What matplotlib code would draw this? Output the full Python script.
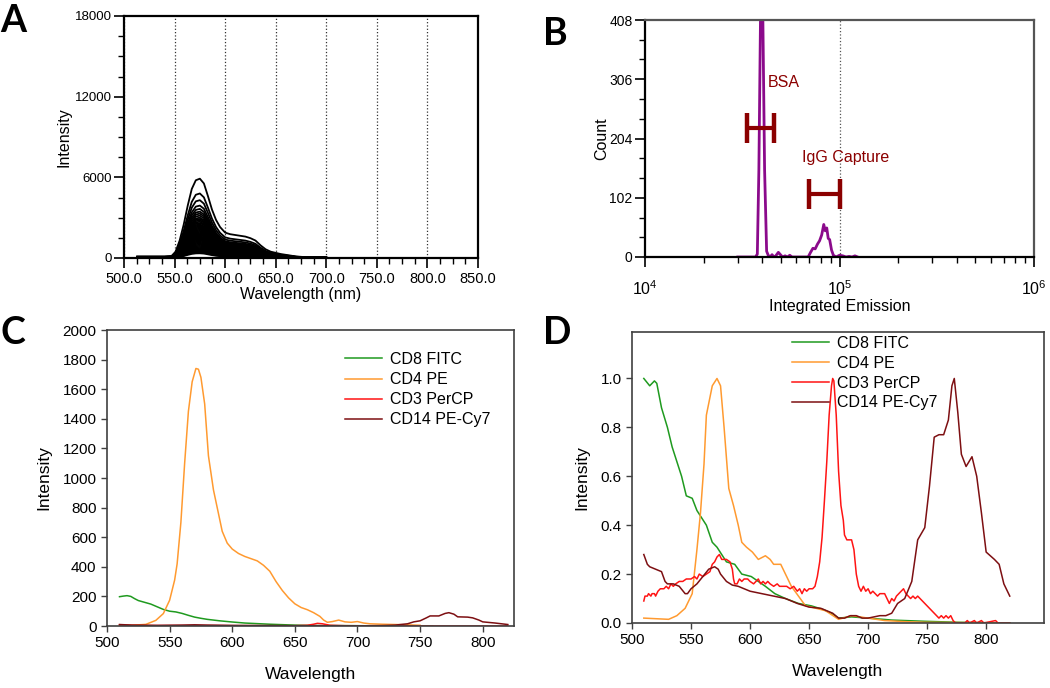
import numpy as np
import matplotlib.pyplot as plt
from matplotlib.ticker import MultipleLocator, FormatStrFormatter, LogLocator, NullFormatter

plt.rcParams['font.family'] = ['Liberation Sans', 'DejaVu Sans']
plt.rcParams['mathtext.default'] = 'regular'

# ---- panel A: stack of spectra (one shape, many peak heights) ----
A_wl = [513, 520, 530, 540, 547, 551, 555, 559, 563, 567, 571, 575, 579, 583, 587,
        591, 595, 600, 605, 610, 615, 620, 625, 630, 635, 640, 645, 650, 655, 660,
        665, 670, 675, 680, 690, 700]
A_shape = [0.02, 0.02, 0.02, 0.02, 0.025, 0.08, 0.22, 0.42, 0.66, 0.87, 0.98, 1.0, 0.94,
           0.78, 0.61, 0.48, 0.39, 0.32, 0.30, 0.29, 0.28, 0.27, 0.25, 0.22, 0.16, 0.11,
           0.08, 0.065, 0.05, 0.04, 0.03, 0.02, 0.015, 0.01, 0.008, 0.005]
A_peaks = [5900, 4800, 4300, 3900, 3650, 3450, 3300, 3150, 3000, 2900, 2800, 2700, 2600,
           2500, 2420, 2340, 2260, 2180, 2100, 2020, 1940, 1860, 1780, 1700, 1620, 1540,
           1460, 1380, 1300, 1220, 1140, 1060, 980, 900, 820, 740, 660, 580, 500, 420, 350]

# ---- panel B: histogram of integrated emission ----
B_x = [3.0e4, 3.70e4, 3.78e4, 3.85e4, 3.93e4, 4.03e4, 4.12e4, 4.22e4, 4.30e4, 4.40e4,
       4.50e4, 4.60e4, 4.70e4, 4.85e4, 5.00e4, 5.10e4, 5.25e4, 5.40e4, 5.55e4, 5.70e4,
       6.90e4, 7.10e4, 7.30e4, 7.50e4, 7.70e4, 7.90e4, 8.10e4, 8.30e4, 8.45e4, 8.60e4,
       8.75e4, 8.90e4, 9.10e4, 9.30e4, 9.60e4, 1.00e5, 1.04e5, 1.08e5, 1.12e5, 1.16e5,
       1.20e5, 1.24e5]
B_count = [0, 0, 5, 150, 430, 430, 150, 10, 3, 0,
           4, 0, 2, 8, 3, 0, 2, 0, 3, 0,
           0, 8, 15, 14, 22, 28, 38, 56, 45, 50,
           32, 30, 12, 3, 0, 3, 2, 0, 1, 0,
           2, 0]
gate_bsa = [3.35e4, 4.6e4, 222]
gate_igg = [6.95e4, 1.0e5, 108]
gate_half = 26

# ---- panel C: raw spectra ----
C_fitc_wl = [510, 513, 516, 519, 522, 525, 530, 535, 540, 545, 550, 555, 560, 565, 570,
             575, 580, 590, 600, 610, 620, 630, 640, 650, 660, 670, 680, 700, 720, 750, 760]
C_fitc = [198, 202, 205, 200, 185, 172, 160, 148, 130, 112, 100, 95, 85, 72, 60,
          52, 45, 35, 27, 20, 16, 12, 9, 6, 4, 3, 3, 2, 1, 1, 0]
C_pe_wl = [510, 520, 531, 539, 545, 550, 554, 556, 559, 562, 565, 568, 571, 573, 575,
           578, 581, 585, 588, 592, 596, 600, 605, 610, 615, 620, 625, 630, 635, 640,
           645, 650, 655, 660, 665, 670, 673, 676, 680, 685, 690, 695, 700, 705, 710,
           720, 730, 740, 750]
C_pe = [5, 5, 11, 38, 84, 174, 310, 420, 700, 1100, 1450, 1650, 1740, 1735, 1680,
        1500, 1150, 920, 800, 640, 560, 520, 490, 470, 455, 440, 410, 370, 300, 240,
        190, 150, 125, 110, 90, 65, 40, 25, 30, 40, 28, 25, 30, 20, 15,
        12, 10, 8, 5]
C_percp_wl = [510, 515, 520, 540, 560, 580, 600, 650, 660, 665, 668, 672, 678, 690, 720,
              750, 800, 818, 820]
C_percp = [8, 5, 4, 3, 3, 3, 2, 2, 5, 12, 18, 15, 5, 2, 1, 0.5, 0, 0, 6]
C_cy7_wl = [510, 520, 540, 560, 570, 580, 600, 650, 700, 720, 730, 740, 745, 750, 755,
            758, 765, 770, 773, 777, 780, 788, 792, 797, 800, 810, 820]
C_cy7 = [10, 6, 4, 6, 8, 6, 4, 2, 1, 3, 6, 15, 28, 35, 55, 68, 68, 85, 90, 80, 62, 60,
         55, 40, 28, 20, 10]

# ---- panel D: normalised spectra ----
D_fitc_wl = [510, 515, 519, 521, 525, 530, 534, 538, 542, 546, 551, 555, 559, 563, 568,
             572, 576, 580, 587, 593, 601, 607, 613, 621, 630, 641, 652, 662, 669, 675,
             686, 700, 720, 748, 776, 820]
D_fitc = [1.0, 0.97, 0.99, 0.98, 0.88, 0.80, 0.72, 0.66, 0.60, 0.52, 0.51, 0.46, 0.43,
          0.40, 0.33, 0.31, 0.28, 0.25, 0.24, 0.20, 0.19, 0.17, 0.15, 0.12, 0.10, 0.08,
          0.07, 0.055, 0.04, 0.02, 0.025, 0.02, 0.012, 0.007, 0.003, 0.0]
D_pe_wl = [510, 531, 538, 545, 551, 555, 558, 561, 563, 568, 572, 575, 578, 582, 586,
           590, 593, 597, 602, 607, 613, 617, 620, 626, 630, 635, 641, 647, 652, 664,
           675, 686, 700, 714, 734, 748, 820]
D_pe = [0.02, 0.015, 0.03, 0.06, 0.12, 0.30, 0.45, 0.65, 0.85, 0.97, 1.0, 0.97, 0.80,
        0.55, 0.48, 0.40, 0.33, 0.31, 0.29, 0.26, 0.275, 0.26, 0.24, 0.24, 0.20, 0.15,
        0.11, 0.07, 0.065, 0.05, 0.015, 0.03, 0.02, 0.01, 0.005, 0.003, 0.0]
D_percp_wl = [510, 511, 513, 514, 516, 517, 519, 520, 522, 524, 527, 529, 531, 533, 535,
              537, 540, 543, 546, 550, 553, 555, 557, 560, 563, 566, 568, 570, 572, 574,
              576, 580, 583, 585, 586, 587, 589, 591, 593, 595, 598, 600, 603, 605, 607,
              609, 611, 613, 615, 617, 620, 623, 625, 628, 631, 634, 637, 640, 642, 644,
              646, 648, 650, 653, 655, 657, 659, 661, 663, 665, 667, 669, 670, 671, 673,
              675, 677, 679, 680, 682, 686, 688, 690, 692, 694, 696, 698, 700, 702, 704,
              706, 708, 710, 714, 716, 718, 720, 722, 724, 726, 728, 730, 732, 734, 736,
              738, 740, 742, 744, 746, 748, 750, 752, 754, 756, 758, 760, 762, 764, 766,
              768, 770, 772, 774, 782, 784, 786, 790, 792, 796, 798, 808, 810, 818, 820]
D_percp = [0.09, 0.11, 0.11, 0.12, 0.11, 0.12, 0.12, 0.11, 0.13, 0.14, 0.14, 0.15, 0.14,
           0.16, 0.15, 0.16, 0.17, 0.17, 0.18, 0.18, 0.19, 0.18, 0.20, 0.19, 0.20, 0.21,
           0.24, 0.25, 0.27, 0.28, 0.26, 0.26, 0.25, 0.22, 0.18, 0.16, 0.16, 0.18, 0.17,
           0.18, 0.18, 0.17, 0.16, 0.17, 0.18, 0.16, 0.17, 0.16, 0.17, 0.16, 0.15, 0.16,
           0.15, 0.15, 0.15, 0.14, 0.15, 0.13, 0.14, 0.12, 0.14, 0.13, 0.14, 0.14, 0.15,
           0.19, 0.25, 0.35, 0.50, 0.66, 0.85, 0.97, 1.0, 0.99, 0.85, 0.62, 0.48, 0.42,
           0.36, 0.34, 0.34, 0.30, 0.20, 0.15, 0.13, 0.15, 0.13, 0.14, 0.12, 0.13, 0.12,
           0.11, 0.12, 0.12, 0.10, 0.08, 0.10, 0.09, 0.11, 0.12, 0.13, 0.14, 0.12, 0.11,
           0.10, 0.11, 0.10, 0.11, 0.10, 0.09, 0.08, 0.07, 0.06, 0.05, 0.04, 0.03, 0.02,
           0.03, 0.02, 0.03, 0.02, 0.03, 0.01, 0.0, 0.0, 0.01, 0.0, 0.01, 0.0, 0.01, 0.0,
           0.01, 0.0, 0.0, 0.0]
D_cy7_wl = [510, 513, 515, 520, 525, 528, 530, 535, 540, 545, 547, 550, 555, 560, 565,
            570, 573, 575, 580, 585, 590, 595, 600, 610, 620, 630, 640, 650, 660, 665,
            670, 675, 680, 685, 690, 695, 700, 705, 710, 715, 720, 725, 731, 737, 742,
            748, 752, 756, 760, 764, 768, 771, 773, 776, 779, 783, 788, 792, 796, 800,
            807, 811, 815, 820]
D_cy7 = [0.28, 0.24, 0.23, 0.22, 0.21, 0.17, 0.16, 0.16, 0.15, 0.12, 0.12, 0.14, 0.16,
         0.19, 0.22, 0.23, 0.22, 0.20, 0.17, 0.155, 0.15, 0.14, 0.13, 0.12, 0.11, 0.10,
         0.08, 0.065, 0.06, 0.05, 0.04, 0.02, 0.02, 0.03, 0.03, 0.02, 0.02, 0.025, 0.03,
         0.03, 0.04, 0.08, 0.10, 0.17, 0.34, 0.39, 0.56, 0.76, 0.77, 0.77, 0.83, 0.97,
         1.0, 0.86, 0.69, 0.64, 0.68, 0.60, 0.45, 0.29, 0.26, 0.24, 0.16, 0.11]

dye_names = ['CD8 FITC', 'CD4 PE', 'CD3 PerCP', 'CD14 PE-Cy7']
dye_colors = ['#1f9a1f', '#ff9a30', '#ff1414', '#7d0f12']

W, H = 1050, 688
fig = plt.figure(figsize=(W / 100, H / 100), dpi=100)


def rect(l, t, r, b):
    return [l / W, 1 - b / H, (r - l) / W, (b - t) / H]


# ---------------- A ----------------
axA = fig.add_axes(rect(124, 16, 478, 258))
for pk in A_peaks:
    axA.plot(A_wl, np.array(A_shape) * pk, color='black', lw=1.3)
axA.set_xlim(500, 850)
axA.set_ylim(0, 18000)
axA.set_xticks(np.arange(500, 851, 50))
axA.xaxis.set_minor_locator(MultipleLocator(12.5))
axA.set_yticks([0, 6000, 12000, 18000])
axA.yaxis.set_minor_locator(MultipleLocator(1500))
axA.xaxis.set_major_formatter(FormatStrFormatter('%.1f'))
axA.grid(axis='x', color='#333333', ls=':', lw=0.9)
axA.tick_params(which='major', direction='out', length=7, width=1.2)
axA.tick_params(which='minor', direction='out', length=4, width=1.0)
axA.tick_params(axis='x', labelsize=10.5, pad=3)
axA.tick_params(axis='y', labelsize=9.5, pad=2)
for s in axA.spines.values():
    s.set_linewidth(1.6)
axA.set_xlabel('Wavelength (nm)', fontsize=11.5, labelpad=1)
axA.set_ylabel('Intensity', fontsize=11.5, labelpad=2)

# ---------------- B ----------------
axB = fig.add_axes(rect(645, 20, 1034, 257))
axB.plot(B_x, B_count, color='#8b0a8b', lw=2)
axB.set_xscale('log')
axB.set_xlim(1e4, 1e6)
axB.set_ylim(0, 408)
axB.set_yticks([0, 102, 204, 306, 408])
axB.yaxis.set_minor_locator(MultipleLocator(34))
axB.xaxis.set_major_locator(LogLocator(base=10, numticks=5))
axB.xaxis.set_minor_locator(LogLocator(base=10, subs=np.arange(2, 10), numticks=20))
axB.xaxis.set_minor_formatter(NullFormatter())
axB.axvline(1e5, color='#555555', ls=':', lw=0.9, zorder=0)
for g in (gate_bsa, gate_igg):
    axB.plot([g[0], g[1]], [g[2], g[2]], color='#8b0000', lw=3, solid_capstyle='butt')
    for xe in g[:2]:
        axB.plot([xe, xe], [g[2] - gate_half, g[2] + gate_half], color='#8b0000', lw=3.2,
                 solid_capstyle='butt')
axB.text(4.28e4, 301, 'BSA', color='#8b0000', fontsize=11.5, va='center')
axB.text(6.41e4, 172, 'IgG Capture', color='#8b0000', fontsize=11.5, va='center')
axB.tick_params(which='major', direction='out', length=7, width=1.2, labelsize=10)
axB.tick_params(which='minor', direction='out', length=4, width=1.0)
axB.tick_params(axis='x', labelsize=11.5, pad=9)
axB.tick_params(axis='y', pad=2)
for k, s in axB.spines.items():
    s.set_linewidth(1.6)
    if k in ('top', 'right'):
        s.set_color('#555555')
axB.set_xlabel('Integrated Emission', fontsize=11.5, labelpad=1)
axB.set_ylabel('Count', fontsize=11.5, labelpad=0)

# ---------------- C ----------------
axC = fig.add_axes(rect(107, 330, 514, 626))
C_series = [(C_fitc_wl, C_fitc), (C_pe_wl, C_pe), (C_percp_wl, C_percp), (C_cy7_wl, C_cy7)]
for (wl, v), name, col in zip(C_series, dye_names, dye_colors):
    axC.plot(wl, v, color=col, lw=1.1, label=name)
axC.set_xlim(500, 825)
axC.set_ylim(0, 2000)
axC.set_xticks(np.arange(500, 801, 50))
axC.set_yticks(np.arange(0, 2001, 200))
axC.tick_params(direction='out', length=4, width=1, color='#404040', labelsize=11)
for s in axC.spines.values():
    s.set_color('#404040')
    s.set_linewidth(1.2)
axC.set_xlabel('Wavelength', fontsize=12.5, labelpad=12)
axC.set_ylabel('Intensity', fontsize=12.5, labelpad=8)
axC.legend(loc='upper left', bbox_to_anchor=(345 / W, 1 - 352 / H),
           bbox_transform=fig.transFigure, frameon=False, fontsize=11.5,
           borderpad=0, borderaxespad=0, handlelength=2.3, handletextpad=0.5,
           labelspacing=0.32)

# ---------------- D ----------------
axD = fig.add_axes(rect(632, 332, 1044, 623))
D_series = [(D_fitc_wl, D_fitc), (D_pe_wl, D_pe), (D_percp_wl, D_percp), (D_cy7_wl, D_cy7)]
for (wl, v), name, col in zip(D_series, dye_names, dye_colors):
    axD.plot(wl, v, color=col, lw=1.1, label=name)
axD.set_xlim(500, 849)
axD.set_ylim(0, 1.19)
axD.set_xticks(np.arange(500, 801, 50))
axD.set_yticks(np.arange(0, 1.01, 0.2))
axD.yaxis.set_major_formatter(FormatStrFormatter('%.1f'))
axD.tick_params(direction='out', length=4, width=1, color='#404040', labelsize=11)
for s in axD.spines.values():
    s.set_color('#404040')
    s.set_linewidth(1.2)
axD.set_xlabel('Wavelength', fontsize=12.5, labelpad=12)
axD.set_ylabel('Intensity', fontsize=12.5, labelpad=8)
axD.legend(loc='upper left', bbox_to_anchor=(792 / W, 1 - 336 / H),
           bbox_transform=fig.transFigure, frameon=False, fontsize=11.5,
           borderpad=0, borderaxespad=0, handlelength=2.3, handletextpad=0.5,
           labelspacing=0.3)

# panel letters
for lab, x, y in [('A', 0, 4), ('B', 543, 17), ('C', 0, 316), ('D', 543, 316)]:
    fig.text(x / W, 1 - y / H, lab, fontsize=27, fontweight='bold', family='Lato',
             ha='left', va='top')

fig.savefig('out.png', dpi=100)
